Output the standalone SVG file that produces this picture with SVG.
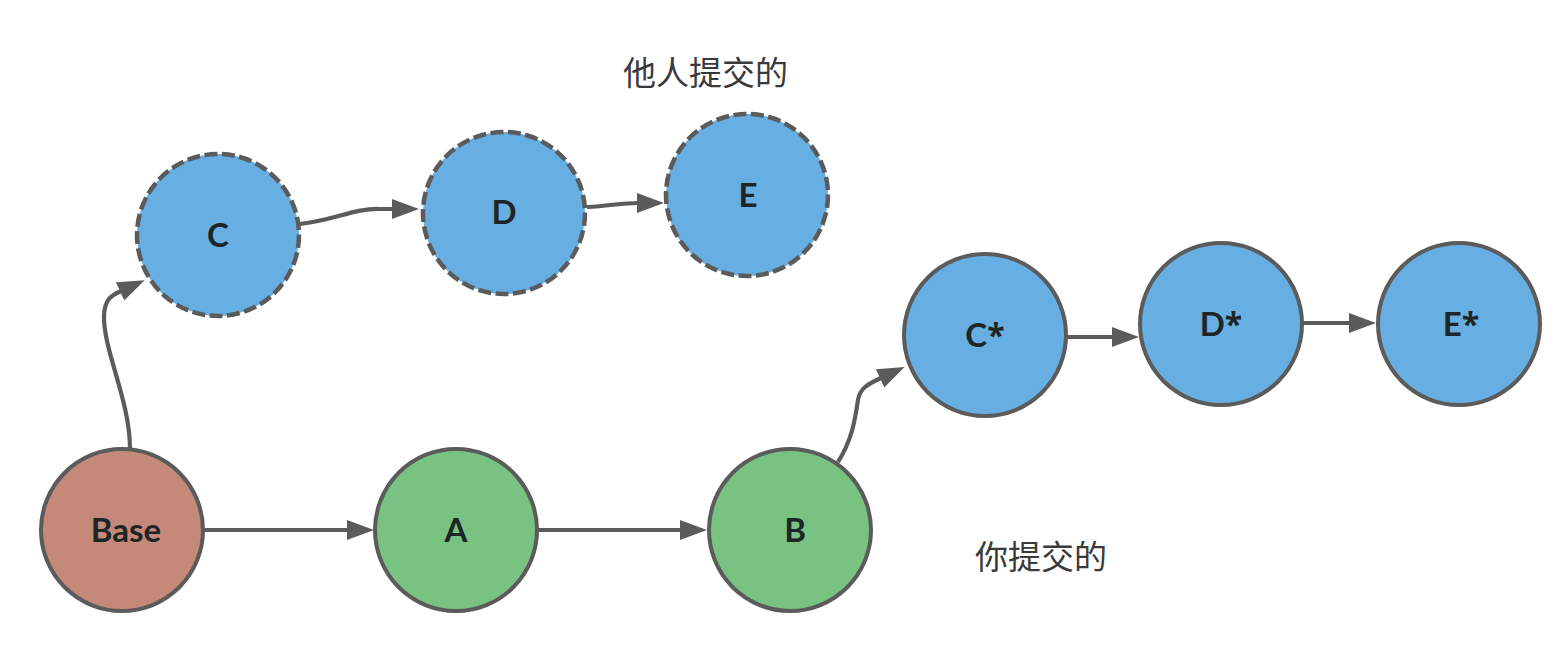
<svg xmlns="http://www.w3.org/2000/svg" width="1556" height="651" viewBox="0 0 1556 651">
<style>
.node{stroke:#5b5b5b;stroke-width:4}
.blue{fill:#67aee2}
.green{fill:#78c282}
.base{fill:#c48978}
.dash{stroke-width:4.5;stroke-dasharray:13 4.5}
.lbl{font-family:Lato,"Open Sans","Liberation Sans",sans-serif;font-weight:bold;font-size:33px;fill:#1e2526;text-anchor:middle}
.ast{font-family:"Open Sans","Liberation Sans",sans-serif;font-size:32px}
.note{font-family:"Noto Sans CJK SC",sans-serif;font-size:33px;fill:#3a3a3a}
.conn{fill:none;stroke:#5b5b5b;stroke-width:4.2;marker-end:url(#arr)}
</style>
<defs>
<marker id="arr" markerUnits="userSpaceOnUse" markerWidth="28" markerHeight="22" viewBox="0 -11 28 22" refX="1" refY="0" orient="auto">
<path d="M0,-10 L27,0 L0,10 Z" fill="#5b5b5b"/>
</marker>
</defs>
<rect width="1556" height="651" fill="#ffffff"/>
<g id="connectors">
<path class="conn" d="M130,449 C130,400 103,350 104,315 C105,300 110,296 121,291"/>
<path class="conn" d="M300,224 C335,220 355,208 380,209 L393,209"/>
<path class="conn" d="M587,207 C610,206 620,203 638,203"/>
<path class="conn" d="M203,530 L348,530"/>
<path class="conn" d="M537,530 L681,530"/>
<path class="conn" d="M838,462 C852,440 855,420 858,400 C860,388 868,384 881,378"/>
<path class="conn" d="M1067,337 L1113,337"/>
<path class="conn" d="M1303,323 L1350,323"/>
</g>
<g id="node-base"><circle class="node base" cx="122" cy="530" r="81"/><text class="lbl" x="126" y="542">Base</text></g>
<g id="node-a"><circle class="node green" cx="456" cy="530" r="81"/><text class="lbl" x="456" y="542">A</text></g>
<g id="node-b"><circle class="node green" cx="790" cy="530" r="81"/><text class="lbl" x="795" y="542">B</text></g>
<g id="node-c"><circle class="node blue dash" cx="218" cy="235" r="81"/><text class="lbl" x="218" y="247">C</text></g>
<g id="node-d"><circle class="node blue dash" cx="504" cy="213" r="81"/><text class="lbl" x="504" y="224">D</text></g>
<g id="node-e"><circle class="node blue dash" cx="747" cy="195" r="81"/><text class="lbl" x="748" y="207">E</text></g>
<g id="node-cstar"><circle class="node blue" cx="985" cy="335" r="81"/><text class="lbl" x="985" y="347">C<tspan class="ast">*</tspan></text></g>
<g id="node-dstar"><circle class="node blue" cx="1221" cy="324" r="81"/><text class="lbl" x="1221" y="336">D<tspan class="ast">*</tspan></text></g>
<g id="node-estar"><circle class="node blue" cx="1459" cy="324" r="81"/><text class="lbl" x="1461" y="336">E<tspan class="ast">*</tspan></text></g>
<g id="label-others"><text class="note" x="623" y="85">他人提交的</text></g>
<g id="label-yours"><text class="note" x="975" y="569">你提交的</text></g>
</svg>
